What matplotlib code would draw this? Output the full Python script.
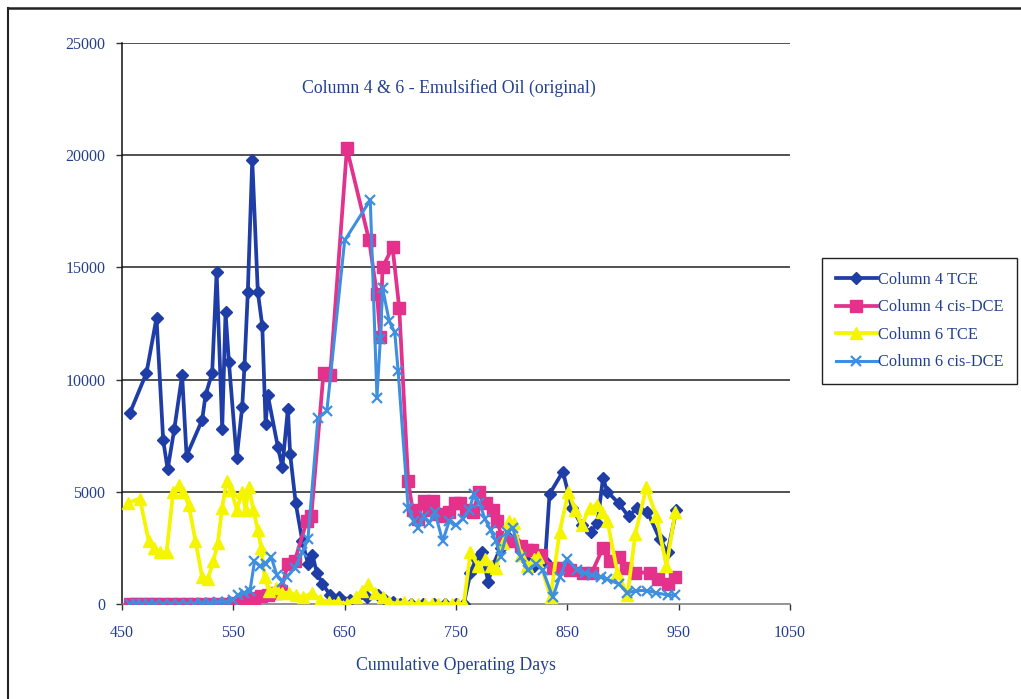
import matplotlib
matplotlib.use("Agg")
import matplotlib.pyplot as plt
from matplotlib.lines import Line2D

# Column 4 TCE
c4_tce_days = [457, 472, 481, 487, 491, 497, 504, 508, 522, 525, 531, 535, 540, 543, 546,
               553, 558, 560, 563, 567, 572, 576, 579, 581, 590, 594, 599, 601, 606, 612,
               617, 621, 625, 630, 637, 645, 655, 670, 680, 686, 693, 700, 710, 720, 730,
               740, 750, 757, 763, 768, 773, 779, 783, 790, 797, 805, 812, 820, 830, 834,
               846, 854, 863, 871, 877, 882, 886, 896, 905, 913, 922, 933, 940, 948]
c4_tce_vals = [8500, 10300, 12750, 7300, 6000, 7800, 10200, 6600, 8200, 9300, 10300, 14800, 7800, 13000, 10800,
               6500, 8800, 10600, 13900, 19800, 13900, 12400, 8000, 9300, 7000, 6100, 8700, 6700, 4500, 2800,
               1800, 2200, 1400, 900, 400, 300, 200, 300, 400, 200, 100, 0, 0, 0, 0,
               0, 0, 0, 1400, 2000, 2300, 1000, 1700, 2500, 3000, 2700, 2000, 1700, 1900, 4900,
               5900, 4300, 3500, 3200, 3600, 5600, 5000, 4500, 3900, 4300, 4100, 2900, 2300, 4200]

# Column 4 cis-DCE
c4_dce_days = [457, 463, 468, 474, 480, 487, 494, 501, 508, 515, 522, 529, 536, 543, 550,
               557, 563, 569, 575, 581, 588, 593, 599, 605, 616, 620, 631, 637, 652, 672,
               679, 682, 684, 693, 699, 707, 711, 716, 721, 726, 729, 733, 738, 744, 749,
               754, 759, 765, 771, 777, 783, 787, 791, 800, 808, 814, 818, 826, 837, 846,
               852, 864, 872, 882, 888, 896, 903, 911, 924, 931, 940, 947]
c4_dce_vals = [0, 0, 0, 0, 0, 0, 0, 0, 0, 0, 0, 0, 0, 0, 50,
               100, 150, 250, 350, 400, 500, 600, 1800, 1900, 3700, 3900, 10300, 10200, 20300, 16200,
               13800, 11900, 15000, 15900, 13200, 5500, 4200, 3800, 4600, 4200, 4600, 4000, 3900, 4100, 4500,
               4500, 4200, 4100, 5000, 4500, 4200, 3700, 3000, 2800, 2600, 2400, 2400, 2200, 1600, 1600,
               1500, 1400, 1400, 2500, 1900, 2100, 1600, 1400, 1400, 1100, 900, 1200]

# Column 6 TCE
c6_tce_days = [455, 466, 474, 479, 484, 490, 496, 501, 505, 510, 516, 522, 527, 532, 536,
               540, 544, 548, 553, 558, 561, 564, 568, 572, 575, 578, 582, 588, 594, 600,
               606, 613, 621, 628, 636, 644, 652, 660, 666, 671, 677, 684, 690, 697, 703,
               710, 716, 722, 728, 734, 740, 746, 752, 757, 763, 770, 776, 781, 786, 792,
               798, 802, 808, 814, 820, 824, 835, 843, 851, 857, 863, 870, 877, 881, 886,
               895, 904, 911, 921, 930, 939, 947]
c6_tce_vals = [4500, 4700, 2800, 2500, 2300, 2300, 5000, 5300, 5000, 4400, 2800, 1200, 1100, 1900, 2700,
               4300, 5500, 5100, 4200, 5000, 4200, 5200, 4200, 3300, 2500, 1200, 600, 700, 500, 500,
               400, 300, 500, 200, 100, 100, 0, 300, 600, 900, 500, 300, 100, 0, 100,
               0, 0, 0, 0, 0, 0, 0, 0, 0, 2300, 1700, 2000, 1700, 1600, 2700,
               3700, 3600, 2200, 1700, 2000, 2100, 300, 3200, 5000, 4200, 3500, 4300, 4400, 4100, 3700,
               1400, 400, 3100, 5200, 3900, 1700, 4100]

# Column 6 cis-DCE
c6_dce_days = [457, 463, 468, 474, 480, 487, 494, 501, 508, 515, 522, 529, 536, 543, 550,
               554, 560, 565, 569, 574, 579, 584, 589, 594, 598, 605, 612, 617, 626, 634,
               650, 673, 679, 682, 684, 690, 695, 698, 707, 712, 716, 721, 726, 731, 738,
               744, 750, 756, 762, 766, 771, 776, 781, 786, 790, 796, 801, 808, 815, 822,
               828, 837, 843, 850, 859, 866, 872, 880, 886, 896, 904, 912, 922, 930, 940, 947]
c6_dce_vals = [0, 0, 0, 0, 0, 0, 0, 0, 0, 0, 50, 50, 100, 100, 200,
               400, 500, 600, 1900, 1700, 1800, 2100, 1300, 1000, 1200, 1600, 2300, 2900, 8300, 8600,
               16200, 18000, 9200, 11800, 14100, 12600, 12100, 10400, 4300, 3700, 3400, 3900, 3600, 4100, 2800,
               3700, 3500, 3800, 4200, 4900, 4500, 3800, 3300, 2800, 2100, 3200, 3400, 2100, 1500, 1800,
               1500, 300, 1200, 2000, 1500, 1400, 1300, 1200, 1100, 900, 500, 600, 600, 500, 400, 400]

x_ticks = [450, 550, 650, 750, 850, 950, 1050]
y_ticks = [0, 5000, 10000, 15000, 20000, 25000]

title = "Column 4 & 6 - Emulsified Oil (original)"
x_label = "Cumulative Operating Days"
series_labels = ["Column 4 TCE", "Column 4 cis-DCE", "Column 6 TCE", "Column 6 cis-DCE"]

text_color = "#23408e"
font = "Liberation Serif"

W, H = 1021, 699
fig = plt.figure(figsize=(W / 100, H / 100), dpi=100)
fig.patch.set_facecolor("white")

ax = fig.add_axes([122 / W, 1 - 604 / H, (790 - 122) / W, (604 - 43) / H])

styles = [
    dict(color="#1f3da6", marker="D", ms=6.5, mfc="#1f3da6", mec="#1f3da6", lw=2.7),
    dict(color="#e3318c", marker="s", ms=8.5, mfc="#e3318c", mec="#e3318c", lw=2.7),
    dict(color="#f5f500", marker="^", ms=9, mfc="#f5f500", mec="#f5f500", lw=2.7),
    dict(color="#3e8fe0", marker="x", ms=7.5, mfc="#3e8fe0", mec="#3e8fe0", mew=1.6, lw=2.2),
]
data = [(c4_tce_days, c4_tce_vals), (c4_dce_days, c4_dce_vals),
        (c6_tce_days, c6_tce_vals), (c6_dce_days, c6_dce_vals)]

handles = []
for (d, v), st, lab in zip(data, styles, series_labels):
    h, = ax.plot(d, v, label=lab, zorder=3, **st)
    handles.append(h)

ax.set_xlim(450, 1050)
ax.set_ylim(0, 25000)
ax.set_xticks(x_ticks)
ax.set_yticks(y_ticks)
ax.set_xticklabels([str(t) for t in x_ticks])
ax.set_yticklabels([str(t) for t in y_ticks])

for y in y_ticks[1:]:
    ax.axhline(y, color="#222222", lw=1.1, zorder=1)

for side in ("top", "right"):
    ax.spines[side].set_visible(False)
ax.spines["left"].set_color("#111111")
ax.spines["left"].set_linewidth(1.1)
ax.spines["bottom"].set_color("#777777")
ax.spines["bottom"].set_linewidth(1.1)

ax.tick_params(axis="both", direction="out", length=4, width=1, color="#333333",
               labelcolor=text_color, labelsize=11.5, pad=8)
for lbl in ax.get_xticklabels() + ax.get_yticklabels():
    lbl.set_fontfamily(font)
ax.tick_params(axis="x", pad=11)

ax.text(0.49, 0.92, title, transform=ax.transAxes, ha="center", va="center",
        fontsize=12.8, color=text_color, family=font)
ax.set_xlabel(x_label, fontsize=12.8, color=text_color, family=font, labelpad=12)

leg = fig.legend(handles=handles, loc="upper left", bbox_to_anchor=(822 / W, 1 - 258 / H),
                 prop={"family": font, "size": 11.8}, frameon=True, fancybox=False,
                 edgecolor="#222222", framealpha=1, handlelength=2.5, handletextpad=0.05,
                 borderpad=0.85, labelspacing=0.7, borderaxespad=0)
for t in leg.get_texts():
    t.set_color(text_color)
leg.get_frame().set_linewidth(1.0)

# outer frame around the chart
fig.add_artist(Line2D([8 / W, 8 / W], [0, 1 - 8 / H], color="#222222", lw=1.5,
                      transform=fig.transFigure))
fig.add_artist(Line2D([8 / W, 1], [1 - 8 / H, 1 - 8 / H], color="#222222", lw=1.8,
                      transform=fig.transFigure))

fig.savefig("out.png", dpi=100)
